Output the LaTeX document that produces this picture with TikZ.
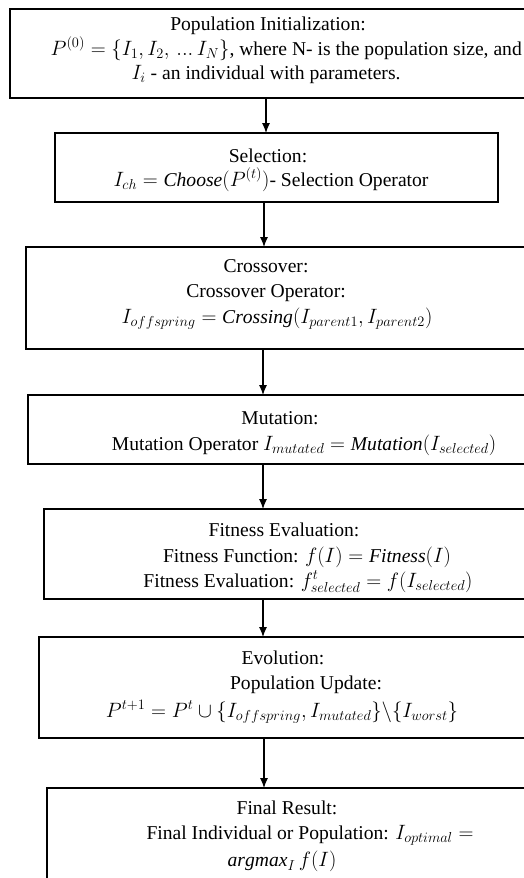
\documentclass[tikz,border=0pt]{standalone}
\usepackage{fontspec}
\setmainfont{Liberation Serif}
\usetikzlibrary{arrows.meta}
\newcommand\mkbox[5]{\node[boxst, minimum width={#4-#2}, minimum height={#5-#3}] (#1) at ({(#2+#4)/2},{(#3+#5)/2}) {};}
\begin{document}
\begin{tikzpicture}[x=1pt,y=-1pt,
  boxst/.style={draw=black, line width=1.8pt, inner sep=0pt, outer sep=0pt},
  txt/.style={inner sep=0pt, anchor=base, font=\fontsize{19.6}{24}\selectfont},
  arr/.style={line width=1.1pt, -{Latex[length=10pt,width=8pt]}}]
\clip (0,0) rectangle (524,878);
\fill[white] (0,0) rectangle (524,878);
% boxes
\mkbox{b1}{10}{9}{560}{98}
\mkbox{b2}{55}{133}{498}{202}
\mkbox{b3}{26}{247}{560}{349}
\mkbox{b4}{28}{395}{560}{464}
\mkbox{b5}{44}{509}{560}{599}
\mkbox{b6}{39}{637}{560}{738}
\mkbox{b7}{47}{788}{560}{920}
% texts
\node[txt] (t11) at (268,30) {Population Initialization:};
\node[txt, anchor=base east] (t12) at (522,55) {$P^{(0)}=\{I_1,I_2,\,...\,I_N\}$, where N- is the population size, and};
\node[txt] (t13) at (266,79) {$I_i$ - an individual with parameters.};
\node[txt] (t21) at (268,162) {Selection:};
\node[txt] (t22) at (271,186) {$I_{ch}=\mathit{Choose}(P^{(t)})$- Selection Operator};
\node[txt] (t31) at (266,272) {Crossover:};
\node[txt] (t32) at (266,297) {Crossover Operator:};
\node[txt] (t33) at (277,323) {$I_{offspring}=\mathit{Crossing}(I_{parent1},I_{parent2})$};
\node[txt] (t41) at (280,424) {Mutation:};
\node[txt] (t42) at (304,450) {Mutation Operator $I_{mutated}=\mathit{Mutation}(I_{selected})$};
\node[txt] (t51) at (284,536) {Fitness Evaluation:};
\node[txt] (t52) at (307,562) {Fitness Function: $f(I)=\mathit{Fitness}(I)$};
\node[txt] (t53) at (308,587) {Fitness Evaluation: $f^{t}_{selected}=f(I_{selected})$};
\node[txt] (t61) at (283,664) {Evolution:};
\node[txt] (t62) at (306,689) {Population Update:};
\node[txt] (t63) at (282,717) {$P^{t+1}=P^{t}\cup\big\{I_{offspring},I_{mutated}\big\}\backslash\{I_{worst}\}$};
\node[txt] (t71) at (287,814) {Final Result:};
\node[txt] (t72) at (310,839) {Final Individual or Population: $I_{optimal}=$};
\node[txt] (t73) at (282,866) {$\mathit{argmax}_I\,f(I)$};
% arrows
\coordinate (x1) at (266,0);
\coordinate (x2) at (264,0);
\coordinate (x3) at (263,0);
\draw[arr] (b1.south -| x1) -- (b2.north -| x1);
\draw[arr] (b2.south -| x2) -- (b3.north -| x2);
\draw[arr] (b3.south -| x3) -- (b4.north -| x3);
\draw[arr] (b4.south -| x3) -- (b5.north -| x3);
\draw[arr] (b5.south -| x3) -- (b6.north -| x3);
\draw[arr] (b6.south -| x2) -- (b7.north -| x2);
\end{tikzpicture}
\end{document}
